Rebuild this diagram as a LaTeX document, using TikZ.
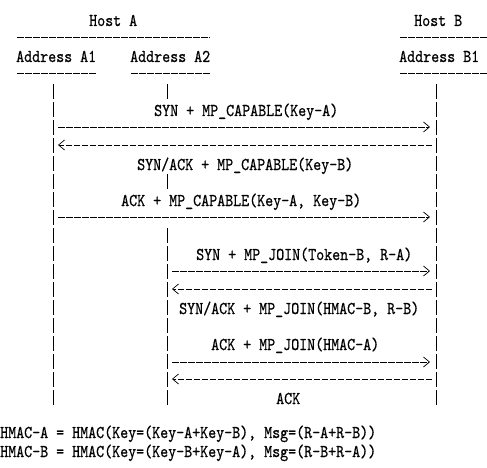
\documentclass[tikz,border=0pt]{standalone}
\usepackage{fontspec}
\newfontfamily\asciifont[FakeStretch=0.8466,FakeBold=0.6]{lmmono10-regular.otf}
\usetikzlibrary{arrows.meta}
\tikzset{
  lbl/.style={anchor=base west, inner sep=0pt, font=\asciifont\fontsize{18}{18}\selectfont},
  life/.style={line width=0.8pt, dash pattern=on 15pt off 3pt},
  rulerow/.style={line width=0.6pt, dash pattern=on 6.5pt off 1.5pt},
  msg/.style={line width=0.6pt, dash pattern=on 6.5pt off 1.5pt,
              -{Straight Barb[length=6pt,width=10pt,line width=0.7pt]}},
}
\begin{document}
\begin{tikzpicture}[x=1pt,y=-1pt]
\useasboundingbox (0,0) rectangle (487,468);
% headers
\node[lbl] (hostA) at (89,26) {Host A};
\node[lbl] (hostB) at (414,26) {Host B};
\node[lbl] (addrA1) at (16,62) {Address A1};
\node[lbl] (addrA2) at (130,62) {Address A2};
\node[lbl] (addrB1) at (399,62) {Address B1};
\draw[rulerow] (17,37) -- (210,37);
\draw[rulerow] (400,37) -- (488,37);
\draw[rulerow] (17,73) -- (97,73);
\draw[rulerow] (131,73) -- (210,73);
\draw[rulerow] (400,73) -- (488,73);
% lifelines
\coordinate (A1t) at (53,84);   \coordinate (A1b) at (53,406);
\coordinate (A2t) at (167,84);  \coordinate (A2u) at (167,99);
\coordinate (A2m) at (167,174); \coordinate (A2n) at (167,189);
\coordinate (A2j) at (167,228); \coordinate (A2b) at (167,406);
\coordinate (B1t) at (436,84);  \coordinate (B1b) at (436,406);
\draw[life] (A1t) -- (A1b);
\draw[life] (B1t) -- (B1b);
\draw[life] (A2t) -- (A2u);
\draw[life] (A2m) -- (A2n);
\draw[life] (A2j) -- (A2b);
% message end points
\coordinate (m1a) at (53,127);  \coordinate (m1b) at (436,127);
\coordinate (m2a) at (53,145);  \coordinate (m2b) at (436,145);
\coordinate (m3a) at (53,217);  \coordinate (m3b) at (436,217);
\coordinate (m4a) at (167,271); \coordinate (m4b) at (436,271);
\coordinate (m5a) at (167,289); \coordinate (m5b) at (436,289);
\coordinate (m6a) at (167,362); \coordinate (m6b) at (436,362);
\coordinate (m7a) at (167,379); \coordinate (m7b) at (436,379);
% messages
\draw[msg, shorten <=5pt, shorten >=6pt] (m1a) -- (m1b);
\draw[msg, shorten <=4pt, shorten >=5pt] (m2b) -- (m2a);
\draw[msg, shorten <=5pt, shorten >=6pt] (m3a) -- (m3b);
\draw[msg, shorten <=5pt, shorten >=6pt] (m4a) -- (m4b);
\draw[msg, shorten <=4pt, shorten >=5pt] (m5b) -- (m5a);
\draw[msg, shorten <=5pt, shorten >=6pt] (m6a) -- (m6b);
\draw[msg, shorten <=4pt, shorten >=5pt] (m7b) -- (m7a);
% labels
\node[lbl] (l1) at (154,116) {SYN + MP\_CAPABLE(Key-A)};
\node[lbl] (l2) at (137,170) {SYN/ACK + MP\_CAPABLE(Key-B)};
\node[lbl] (l3) at (121,206) {ACK + MP\_CAPABLE(Key-A, Key-B)};
\node[lbl] (l4) at (196,260) {SYN + MP\_JOIN(Token-B, R-A)};
\node[lbl] (l5) at (179,314) {SYN/ACK + MP\_JOIN(HMAC-B, R-B)};
\node[lbl] (l6) at (211,350) {ACK + MP\_JOIN(HMAC-A)};
\node[lbl] (l7) at (276,404) {ACK};
\node[lbl] (f1) at (0,438) {HMAC-A = HMAC(Key=(Key-A+Key-B), Msg=(R-A+R-B))};
\node[lbl] (f2) at (0,457) {HMAC-B = HMAC(Key=(Key-B+Key-A), Msg=(R-B+R-A))};
\end{tikzpicture}
\end{document}
